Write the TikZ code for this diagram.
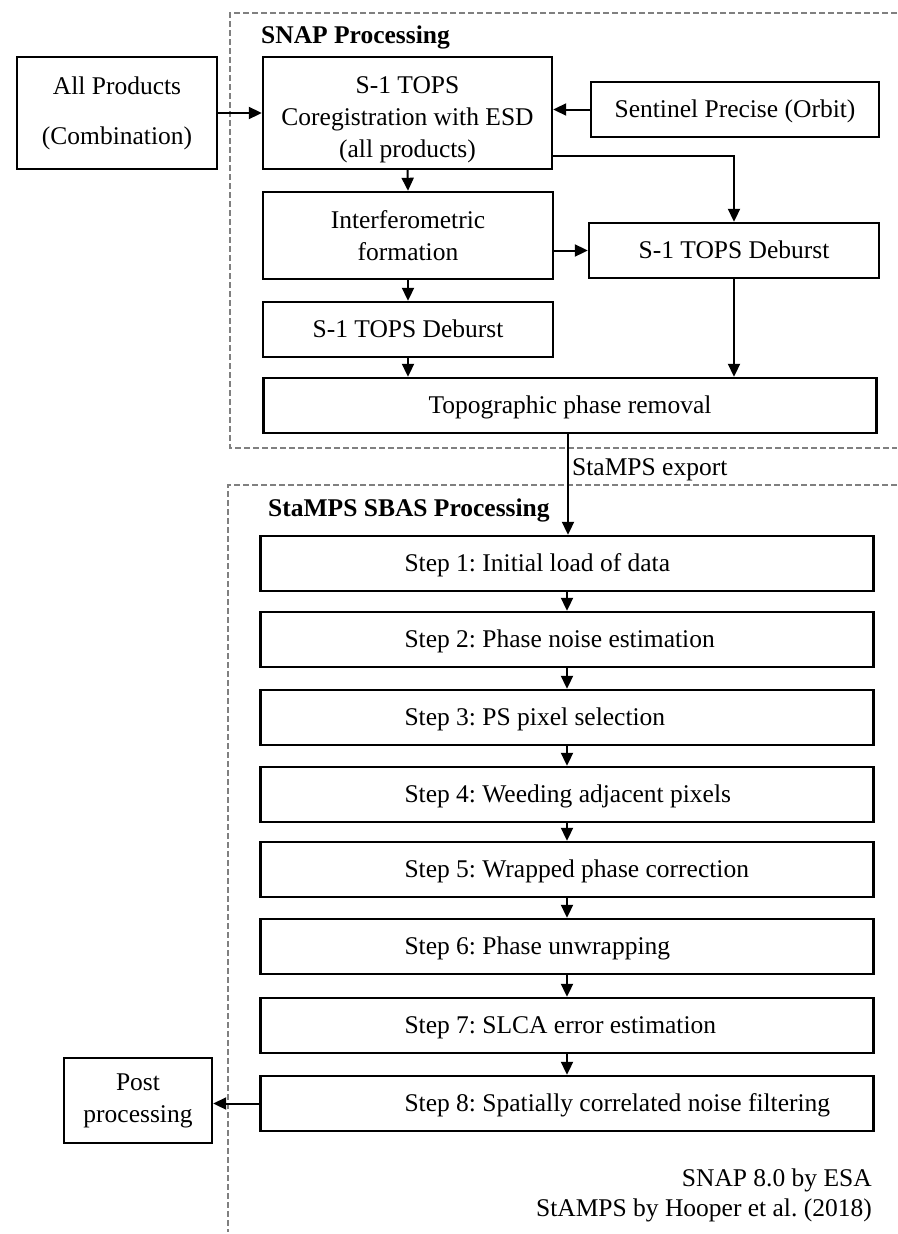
\documentclass[tikz,border=0pt]{standalone}
\usepackage{fontspec}
\setmainfont{Liberation Serif}
\usetikzlibrary{arrows.meta}
\frenchspacing
\begin{document}
\begin{tikzpicture}[x=1pt,y=-1pt,
  every node/.style={font=\fontsize{25.5}{32}\selectfont},
  box/.style={draw, line width=2.4pt, inner sep=0pt, align=center},
  onebox/.style={draw, line width=2.4pt, inner sep=0pt, minimum height=55pt, text height=20pt, text depth=4pt},
  stepbox/.style={onebox, minimum width=613pt},
  conn/.style={line width=2pt, -{Triangle[length=13pt,width=12pt]}},
  frame/.style={draw=black!50, line width=1.6pt, dash pattern=on 6pt off 3pt},
  hdr/.style={font=\fontsize{25.5}{32}\selectfont\bfseries, anchor=base west, inner sep=0pt},
  plain/.style={inner sep=0pt}]
\useasboundingbox (0,0) rectangle (897,1234);

% frames
\draw[frame] (897,13) -- (230,13) -- (230,448) -- (897,448);
\draw[frame] (897,485) -- (228,485) -- (228,1232);

% headers
\node[hdr] (snaphdr) at (261,43) {SNAP Processing};
\node[hdr] (stahdr) at (268,516) {StaMPS SBAS Processing};

% SNAP boxes
\node[box, minimum width=200pt, minimum height=112pt] (allp) at (117,113) {All Products\\[18pt](Combination)};
\node[box, minimum width=289pt, minimum height=112pt] (coreg) at (407.5,113) {\rule{0pt}{30pt}S-1 TOPS\\Coregistration with ESD\\(all products)};
\node[onebox, minimum width=288pt] (orbit) at (735,109.5) {Sentinel Precise (Orbit)};
\node[box, minimum width=290pt, minimum height=87pt] (interf) at (408,235.5) {Interferometric\\formation};
\node[onebox, minimum width=290pt] (debR) at (734,250.5) {S-1 TOPS Deburst};
\node[onebox, minimum width=290pt] (debL) at (408,329.5) {S-1 TOPS Deburst};
\node[onebox, minimum width=613pt] (topo) at (570,405.5) {Topographic phase removal};

% StaMPS steps
\node[stepbox] (s1) at (567,563.5) {\makebox[613pt][l]{\hspace*{144pt}Step 1: Initial load of data}};
\node[stepbox] (s2) at (567,639.5) {\makebox[613pt][l]{\hspace*{144pt}Step 2: Phase noise estimation}};
\node[stepbox] (s3) at (567,717.5) {\makebox[613pt][l]{\hspace*{144pt}Step 3: PS pixel selection}};
\node[stepbox] (s4) at (567,794.5) {\makebox[613pt][l]{\hspace*{144pt}Step 4: Weeding adjacent pixels}};
\node[stepbox] (s5) at (567,869.5) {\makebox[613pt][l]{\hspace*{144pt}Step 5: Wrapped phase correction}};
\node[stepbox] (s6) at (567,946.5) {\makebox[613pt][l]{\hspace*{144pt}Step 6: Phase unwrapping}};
\node[stepbox] (s7) at (567,1025.5) {\makebox[613pt][l]{\hspace*{144pt}Step 7: SLCA error estimation}};
\node[stepbox] (s8) at (567,1103.5) {\makebox[613pt][l]{\hspace*{144pt}Step 8: Spatially correlated noise filtering}};

\node[box, minimum width=148pt, minimum height=85pt] (post) at (138,1100.5) {Post\\processing};

% labels
\node[plain, anchor=base west] (export) at (572,475) {StaMPS export};
\node[plain, anchor=base east] (cap1) at (872,1186) {SNAP 8.0 by ESA};
\node[plain, anchor=base east] (cap2) at (872,1216) {StAMPS by Hooper et al. (2018)};

% connectors
\draw[conn] (allp.east) -- (coreg.west);
\draw[conn] (orbit.west) -- (orbit.west -| coreg.east);
\draw[conn] (coreg.south) -- (interf.north);
\draw[conn] ([yshift=-43pt]coreg.east) -| (debR.north);
\draw[conn] (interf.east |- debR.west) -- (debR.west);
\draw[conn] (interf.south) -- (debL.north);
\draw[conn] (debL.south) -- (debL.south |- topo.north);
\draw[conn] (debR.south) -- (debR.south |- topo.north);
\draw[conn] ([xshift=-2pt]topo.south) -- ([xshift=-2pt]topo.south |- s1.north);
\draw[conn] (s1.south) -- (s2.north);
\draw[conn] (s2.south) -- (s3.north);
\draw[conn] (s3.south) -- (s4.north);
\draw[conn] (s4.south) -- (s5.north);
\draw[conn] (s5.south) -- (s6.north);
\draw[conn] (s6.south) -- (s7.north);
\draw[conn] (s7.south) -- (s8.north);
\draw[conn] (s8.west) -- (s8.west -| post.east);
\end{tikzpicture}
\end{document}
